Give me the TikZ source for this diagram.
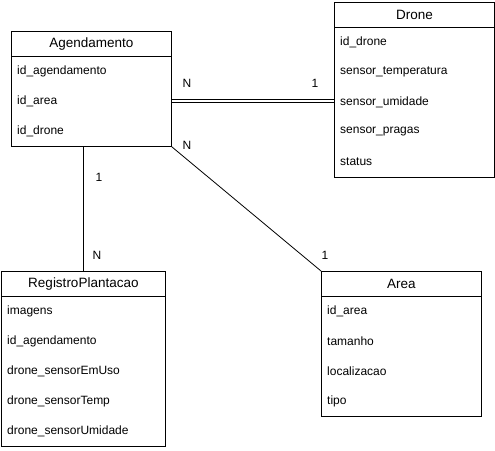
\documentclass[tikz,border=0pt]{standalone}
\usepackage{fontspec}
\setmainfont{Liberation Sans}
\usetikzlibrary{positioning}
\begin{document}
\begin{tikzpicture}[x=1pt,y=-1pt]
  \tikzset{
    entity/.style={draw,line width=0.8pt,anchor=north west,inner sep=0pt},
    head/.style={draw,line width=0.8pt,anchor=north west,minimum height=25pt,inner sep=0pt,font=\fontsize{13.5}{16}\selectfont},
    field/.style={anchor=west,inner xsep=6pt,inner ysep=0pt,minimum height=30pt,text width=#1,align=left,font=\fontsize{12}{14}\selectfont},
    field/.default=148pt,
    card/.style={font=\fontsize{12}{14}\selectfont,inner sep=0pt},
    link/.style={line width=0.8pt}
  }
  \useasboundingbox (0,0) rectangle (495,450);

    %AGENDAMENTO
    \node[entity,minimum width=160pt,minimum height=115pt] (ag) at (11,31) {};
    \node[head,minimum width=160pt] (agh) at (11,31) {Agendamento};
    \foreach \f [count=\i] in {id\_agendamento,id\_area,id\_drone} {
      \node[field] (ag\i) at (11,41+30*\i) {\f};
    }
    %DRONE
    \node[entity,minimum width=160pt,minimum height=175pt] (dr) at (334,2) {};
    \node[head,minimum width=160pt] (drh) at (334,2) {Drone};
    \foreach \f [count=\i] in {id\_drone,sensor\_temperatura,sensor\_umidade,sensor\_pragas,status} {
      \node[field] (dr\i) at (334,12+30*\i) {\f};
    }
    %REGISTROPLANTACAO
    \node[entity,minimum width=164pt,minimum height=175pt] (reg) at (1,271) {};
    \node[head,minimum width=164pt] (regh) at (1,271) {RegistroPlantacao};
    \foreach \f [count=\i] in {imagens,id\_agendamento,drone\_sensorEmUso,drone\_sensorTemp,drone\_sensorUmidade} {
      \node[field=152pt] (reg\i) at (1,281+30*\i) {\f};
    }
    %AREA
    \node[entity,minimum width=160pt,minimum height=145pt] (ar) at (321,271) {};
    \node[head,minimum width=160pt] (arh) at (321,271) {Area};
    \foreach \f [count=\i] in {id\_area,tamanho,localizacao,tipo} {
      \node[field] (ar\i) at (321,281+30*\i) {\f};
    }

    %RELATIONS
    \foreach \s in {-1.5pt,1.5pt} {
      \draw[link] ([yshift=\s]ag2.east) -- ([yshift=\s]ag2.east -| dr.west);
    }
    \draw[link] (reg.north) -- (reg.north |- ag.south);
    \draw[link] (ag.south east) -- (ar.north west);

    \node[card] (cAgDr) at (187,83) {N};
    \node[card] (cDrAg) at (315,83) {1};
    \node[card] (cAgReg) at (99,177) {1};
    \node[card] (cRegAg) at (97,255) {N};
    \node[card] (cAgAr) at (187,145) {N};
    \node[card] (cArAg) at (325,255) {1};
\end{tikzpicture}
\end{document}
